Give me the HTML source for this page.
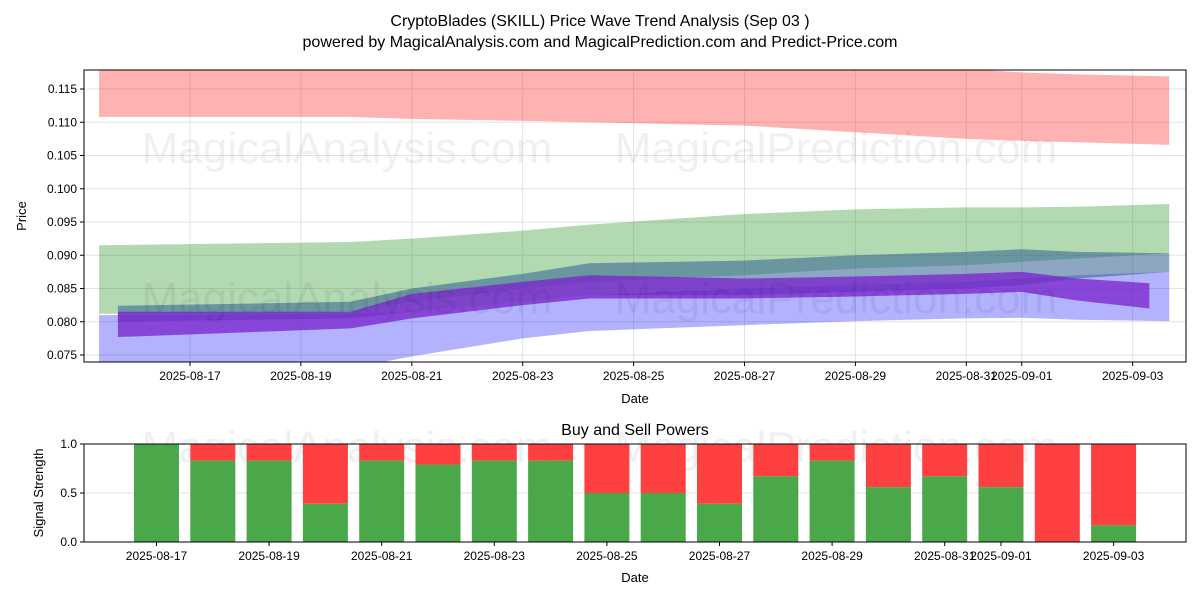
<!DOCTYPE html>
<html><head><meta charset="utf-8"><style>
body{margin:0;background:#fff;}
svg{display:block;font-family:"Liberation Sans","DejaVu Sans",sans-serif;}
</style></head><body>
<svg id="c" width="1200" height="600" viewBox="0 0 1200 600" xmlns="http://www.w3.org/2000/svg">
<text x="600" y="26" text-anchor="middle" font-size="16">CryptoBlades (SKILL) Price Wave Trend Analysis (Sep 03 )</text>
<text x="600" y="47" text-anchor="middle" font-size="16">powered by MagicalAnalysis.com and MagicalPrediction.com and Predict-Price.com</text>
<defs>
<clipPath id="cp1"><rect x="84" y="70" width="1102" height="292"/></clipPath>
<clipPath id="cp2"><rect x="84" y="444" width="1102" height="98"/></clipPath>
</defs>
<g id="topPanel"></g>
<g id="botPanel"></g>
</svg>
<script>
// ---- data ----
const bandDays = [15.36, 19.9, 21, 23, 24.2, 27, 29, 31, 32, 33, 34.66];
const redTop   = [0.1185,0.1185,0.1185,0.1185,0.1185,0.1185,0.1185,0.118,0.1175,0.1172,0.1169];
const redBot   = [0.1108,0.1108,0.1105,0.1102,0.1100,0.1095,0.1085,0.1075,0.1072,0.1070,0.1066];
const greenTop = [0.0915,0.0920,0.0925,0.0937,0.0946,0.0962,0.0969,0.0972,0.0972,0.0973,0.0977];
const greenBot = [0.0812,0.0815,0.0830,0.0850,0.0860,0.0870,0.0880,0.0885,0.0890,0.0895,0.0903];
const blueTop  = [0.0810,0.0812,0.0815,0.0830,0.0840,0.0850,0.0855,0.0860,0.0865,0.0870,0.0875];
const blueBot  = [0.0730,0.0730,0.0748,0.0775,0.0786,0.0795,0.0801,0.0805,0.0806,0.0803,0.0801];
const steelDays = [15.7,19.9,21,23,24.2,27,29,31,32,33,34.66];
const steelTop = [0.0824,0.0830,0.0850,0.0872,0.0888,0.0892,0.0900,0.0905,0.0909,0.0905,0.0903];
const steelBot = [0.0800,0.0805,0.0815,0.0830,0.0840,0.0840,0.0845,0.0850,0.0855,0.0865,0.0875];
const purpDays = [15.7,19.9,21,23,24.2,27,29,31,32,33,34.3];
const purpTop  = [0.0815,0.0815,0.0842,0.0860,0.0870,0.0865,0.0868,0.0872,0.0875,0.0865,0.0858];
const purpBot  = [0.0777,0.0790,0.0805,0.0825,0.0835,0.0835,0.0838,0.0842,0.0845,0.0832,0.0820];
const yTicks = [0.075,0.080,0.085,0.090,0.095,0.100,0.105,0.110,0.115];
const xTickDays = [17,19,21,23,25,27,29,31,32,34];
const xTickLabels = ["2025-08-17","2025-08-19","2025-08-21","2025-08-23","2025-08-25","2025-08-27","2025-08-29","2025-08-31","2025-09-01","2025-09-03"];
const barDays = [17,18,19,20,21,22,23,24,25,26,27,28,29,30,31,32,33,34];
const buyVals = [1.0,0.83,0.83,0.39,0.83,0.79,0.83,0.83,0.5,0.5,0.39,0.67,0.83,0.56,0.67,0.56,0.0,0.17];
const sigTicks = [0.0,0.5,1.0];

const NS="http://www.w3.org/2000/svg";
function mk(tag,attrs,parent,txt){const e=document.createElementNS(NS,tag);for(const k in attrs)e.setAttribute(k,attrs[k]);if(txt!==undefined)e.textContent=txt;parent.appendChild(e);return e;}
const X1=d=>190+(d-17)*55.45;
const Y1=v=>355-(v-0.075)/0.005*33.25;
const X2=d=>156.5+(d-17)*56.3;
const Y2=v=>542-v*98;

const topG=document.getElementById('topPanel');
yTicks.forEach(v=>{const l=mk('line',{x1:84,x2:1186,y1:Y1(v),y2:Y1(v),stroke:'#e3e3e3','stroke-width':1},topG);
});
xTickDays.forEach(d=>{const l=mk('line',{x1:X1(d),x2:X1(d),y1:70,y2:362,stroke:'#e3e3e3','stroke-width':1},topG);
});
const wm1=mk('text',{x:347,y:163,'font-size':44,fill:'#000','fill-opacity':0.06,'text-anchor':'middle'},topG,'MagicalAnalysis.com');

const wm2=mk('text',{x:836,y:163,'font-size':44,fill:'#000','fill-opacity':0.06,'text-anchor':'middle'},topG,'MagicalPrediction.com');

const g=mk('g',{'clip-path':'url(#cp1)'},topG);
function band(days,hi,lo,fill,op,name){
  let p=days.map((d,i)=>X1(d)+','+Y1(hi[i])).join(' ')+' '+days.slice().reverse().map((d,j)=>{const i=days.length-1-j;return X1(d)+','+Y1(lo[i]);}).join(' ');
  const e=mk('polygon',{points:p,fill:fill,'fill-opacity':op},g);
  
}
band(bandDays,redTop,redBot,'#ff0000',0.3,'red-band');
band(bandDays,greenTop,greenBot,'#008000',0.3,'green-band');
band(bandDays,blueTop,blueBot,'#0000ff',0.3,'blue-band');
band(steelDays,steelTop,steelBot,'#2f5f8f',0.55,'steel-band');
band(purpDays,purpTop,purpBot,'#7a22cc',0.75,'purple-band');
const wm3=mk('text',{x:347,y:313,'font-size':44,fill:'#000','fill-opacity':0.06,'text-anchor':'middle'},topG,'MagicalAnalysis.com');

const wm4=mk('text',{x:836,y:313,'font-size':44,fill:'#000','fill-opacity':0.06,'text-anchor':'middle'},topG,'MagicalPrediction.com');

const f1=mk('rect',{x:84,y:70,width:1102,height:292,fill:'none',stroke:'#000','stroke-width':1},topG);

yTicks.forEach(v=>{mk('line',{x1:80,x2:84,y1:Y1(v),y2:Y1(v),stroke:'#000'},topG);
const t=mk('text',{x:77,y:Y1(v)+4,'font-size':12,'text-anchor':'end'},topG,v.toFixed(3));
});
xTickDays.forEach((d,i)=>{mk('line',{x1:X1(d),x2:X1(d),y1:362,y2:366,stroke:'#000'},topG);
const t=mk('text',{x:X1(d),y:380,'font-size':12,'text-anchor':'middle'},topG,xTickLabels[i]);
});
const xl=mk('text',{x:635,y:403,'font-size':13,'text-anchor':'middle'},topG,'Date');

const yl=mk('text',{x:26,y:216,'font-size':13,'text-anchor':'middle',transform:'rotate(-90 26 216)'},topG,'Price');


const botG=document.getElementById('botPanel');
const st=mk('text',{x:635,y:435,'font-size':16,'text-anchor':'middle'},botG,'Buy and Sell Powers');

sigTicks.forEach(v=>{const l=mk('line',{x1:84,x2:1186,y1:Y2(v),y2:Y2(v),stroke:'#e3e3e3'},botG);
});
xTickDays.forEach(d=>{const l=mk('line',{x1:X2(d),x2:X2(d),y1:444,y2:542,stroke:'#e3e3e3'},botG);
});
const wm5=mk('text',{x:347,y:462,'font-size':44,fill:'#000','fill-opacity':0.06,'text-anchor':'middle'},botG,'MagicalAnalysis.com');

const wm6=mk('text',{x:836,y:462,'font-size':44,fill:'#000','fill-opacity':0.06,'text-anchor':'middle'},botG,'MagicalPrediction.com');

const bg=mk('g',{'clip-path':'url(#cp2)'},botG);
barDays.forEach((d,i)=>{const v=buyVals[i];
const s=mk('rect',{x:X2(d)-22.5,y:Y2(1),width:45,height:Y2(v)-Y2(1),fill:'#ff4040'},bg);

const b=mk('rect',{x:X2(d)-22.5,y:Y2(v),width:45,height:Y2(0)-Y2(v),fill:'#4aa84a'},bg);
});
const f2=mk('rect',{x:84,y:444,width:1102,height:98,fill:'none',stroke:'#000'},botG);

sigTicks.forEach(v=>{mk('line',{x1:80,x2:84,y1:Y2(v),y2:Y2(v),stroke:'#000'},botG);
const t=mk('text',{x:77,y:Y2(v)+4,'font-size':12,'text-anchor':'end'},botG,v.toFixed(1));
});
xTickDays.forEach((d,i)=>{mk('line',{x1:X2(d),x2:X2(d),y1:542,y2:546,stroke:'#000'},botG);
const t=mk('text',{x:X2(d),y:560,'font-size':12,'text-anchor':'middle'},botG,xTickLabels[i]);
});
const xl2=mk('text',{x:635,y:582,'font-size':13,'text-anchor':'middle'},botG,'Date');

const yl2=mk('text',{x:43,y:493,'font-size':13,'text-anchor':'middle',transform:'rotate(-90 43 493)'},botG,'Signal Strength');

</script>
</body></html>
